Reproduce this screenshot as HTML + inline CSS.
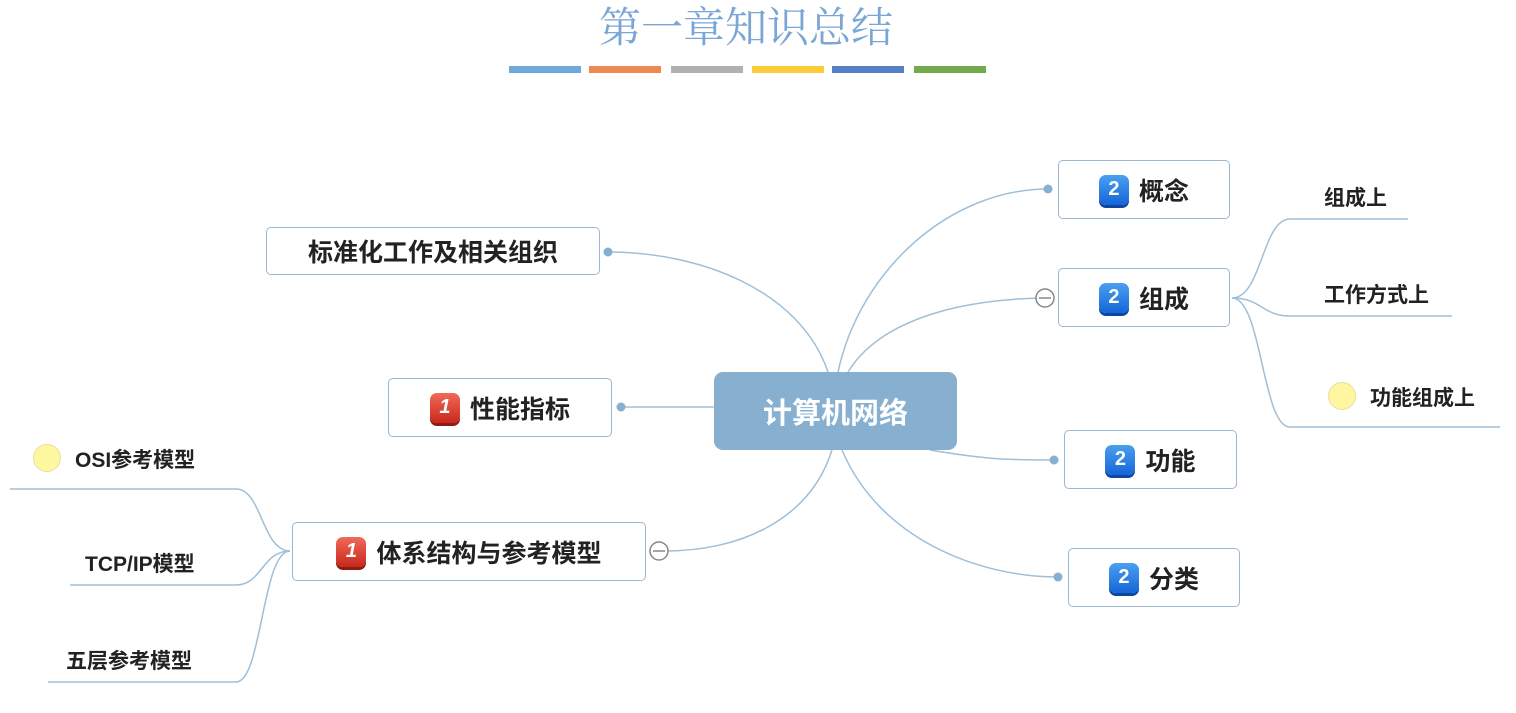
<!DOCTYPE html>
<html><head><meta charset="utf-8"><style>
body{margin:0;width:1516px;height:713px;background:#fff;position:relative;overflow:hidden;font-family:"Liberation Sans","Noto Sans CJK SC",sans-serif;}
.a{position:absolute}
.box{position:absolute;border:1.5px solid #9ab8d2;border-radius:5px;background:#fff;box-sizing:border-box;display:flex;align-items:center;justify-content:center;font-size:25px;color:#222;font-weight:bold}
.b{display:inline-block;width:30px;height:30px;border-radius:7px;color:#fff;font-size:20px;line-height:29px;text-align:center;margin-right:10px;font-weight:bold}
.blue{background:linear-gradient(#4aa0f0,#1565d8);box-shadow:0 3px 0 #0d47a1}
.red{background:linear-gradient(#f06a5a,#c8281c);box-shadow:0 3px 0 #8e1a12;font-style:italic}
.t{position:absolute;font-size:21px;color:#222;font-weight:bold}
.y{position:absolute;width:28px;height:28px;border-radius:50%;background:#fff7a0;border:1px solid #e8dfa0;box-sizing:border-box}
</style></head><body>
<div class="a" style="left:599px;top:-5px;font-size:42px;color:#79a6d6;font-family:'Noto Serif CJK SC','Liberation Serif',serif;">第一章知识总结</div>
<div class="a" style="left:509px;top:66px;width:72px;height:7px;background:#6fa8dc"></div>
<div class="a" style="left:589px;top:66px;width:72px;height:7px;background:#f0894f"></div>
<div class="a" style="left:671px;top:66px;width:72px;height:7px;background:#b0b0b0"></div>
<div class="a" style="left:752px;top:66px;width:72px;height:7px;background:#fdcb3a"></div>
<div class="a" style="left:832px;top:66px;width:72px;height:7px;background:#5580c6"></div>
<div class="a" style="left:914px;top:66px;width:72px;height:7px;background:#72ab4b"></div>
<svg class="a" style="left:0;top:0" width="1516" height="713" fill="none" stroke="#9fbfd8" stroke-width="1.5">
<path d="M828 372 C800 290 700 252 608 252"/>
<path d="M714 407 L621 407"/>
<path d="M832 450 C810 520 740 551 665 551"/>
<path d="M838 372 C860 270 950 189 1048 189"/>
<path d="M848 372 C880 320 960 298 1052 298"/>
<path d="M930 450 C990 460 1010 460 1054 460"/>
<path d="M842 450 C880 540 980 577 1058 577"/>
<path d="M1232 298 C1262 298 1262 219 1290 219 L1408 219"/>
<path d="M1232 298 C1262 298 1262 316 1290 316 L1452 316"/>
<path d="M1232 298 C1262 298 1262 427 1290 427 L1500 427"/>
<path d="M290 551 C262 551 262 489 236 489 L10 489"/>
<path d="M290 551 C262 551 262 585 236 585 L70 585"/>
<path d="M290 551 C262 551 262 682 236 682 L48 682"/>
<g fill="#86afd0" stroke="none"><circle cx="608" cy="252" r="4.5"/><circle cx="621" cy="407" r="4.5"/><circle cx="1048" cy="189" r="4.5"/><circle cx="1054" cy="460" r="4.5"/><circle cx="1058" cy="577" r="4.5"/></g>
<g stroke="#888" fill="#fff"><circle cx="659" cy="551" r="9"/><circle cx="1045" cy="298" r="9"/></g>
<g stroke="#888"><path d="M653 551h12M1039 298h12"/></g>
</svg>
<div class="a" style="left:714px;top:372px;width:243px;height:78px;background:#86afd0;border-radius:9px;color:#fff;font-size:29px;font-weight:bold;display:flex;align-items:center;justify-content:center">计算机网络</div>
<div class="box" style="left:266px;top:227px;width:334px;height:48px">标准化工作及相关组织</div>
<div class="box" style="left:388px;top:378px;width:224px;height:59px"><span class="b red">1</span>性能指标</div>
<div class="box" style="left:292px;top:522px;width:354px;height:59px"><span class="b red">1</span>体系结构与参考模型</div>
<div class="box" style="left:1058px;top:160px;width:172px;height:59px"><span class="b blue">2</span>概念</div>
<div class="box" style="left:1058px;top:268px;width:172px;height:59px"><span class="b blue">2</span>组成</div>
<div class="box" style="left:1064px;top:430px;width:173px;height:59px"><span class="b blue">2</span>功能</div>
<div class="box" style="left:1068px;top:548px;width:172px;height:59px"><span class="b blue">2</span>分类</div>
<div class="t" style="left:1324px;top:182px">组成上</div>
<div class="t" style="left:1324px;top:279px">工作方式上</div>
<div class="y" style="left:1328px;top:382px"></div>
<div class="t" style="left:1370px;top:382px">功能组成上</div>
<div class="y" style="left:33px;top:444px"></div>
<div class="t" style="left:75px;top:444px">OSI参考模型</div>
<div class="t" style="left:85px;top:548px">TCP/IP模型</div>
<div class="t" style="left:66px;top:645px">五层参考模型</div>
</body></html>
